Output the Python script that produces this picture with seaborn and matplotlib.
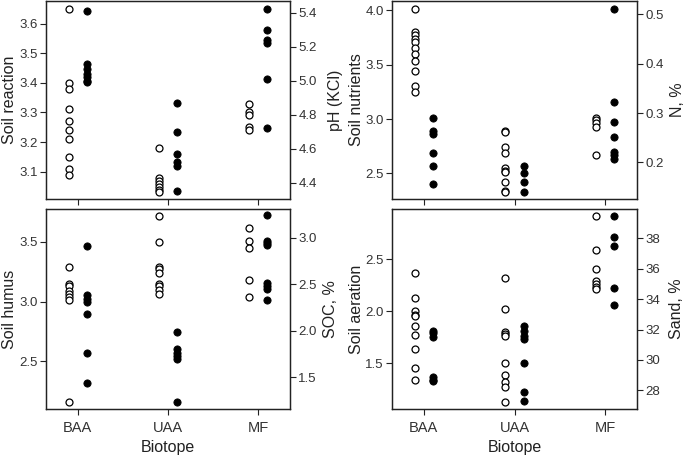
import numpy as np
import pandas as pd
import seaborn as sns
import matplotlib.pyplot as plt

biotopes = ["BAA", "UAA", "MF"]

# Soil reaction (open) / pH KCl (filled)
reaction = {"BAA": [3.65, 3.40, 3.38, 3.31, 3.27, 3.24, 3.21, 3.15, 3.11, 3.09],
            "UAA": [3.18, 3.08, 3.07, 3.06, 3.05, 3.04, 3.03],
            "MF": [3.33, 3.30, 3.29, 3.25, 3.24]}
ph_kcl = {"BAA": [5.41, 5.10, 5.07, 5.04, 5.02, 5.00, 4.99],
          "UAA": [4.87, 4.70, 4.57, 4.52, 4.50, 4.35],
          "MF": [5.42, 5.30, 5.24, 5.22, 5.01, 4.72]}

# Soil nutrients (open) / N % (filled)
nutrients = {"BAA": [4.01, 3.80, 3.77, 3.74, 3.71, 3.65, 3.60, 3.53, 3.44, 3.30, 3.25],
             "UAA": [2.89, 2.88, 2.74, 2.69, 2.55, 2.52, 2.51, 2.42, 2.34, 2.33],
             "MF": [3.01, 2.99, 2.96, 2.93, 2.67]}
nitrogen = {"BAA": [0.290, 0.263, 0.258, 0.219, 0.193, 0.156],
            "UAA": [0.193, 0.178, 0.160, 0.140],
            "MF": [0.510, 0.322, 0.281, 0.252, 0.221, 0.215, 0.208]}

# Soil humus (open) / SOC % (filled)
humus = {"BAA": [3.29, 3.15, 3.13, 3.09, 3.06, 3.04, 3.01, 2.16],
         "UAA": [3.72, 3.50, 3.29, 3.27, 3.24, 3.15, 3.13, 3.10, 3.06],
         "MF": [3.62, 3.51, 3.45, 3.18, 3.04]}
soc = {"BAA": [2.91, 2.38, 2.34, 2.31, 2.18, 1.76, 1.44],
       "UAA": [1.99, 1.80, 1.76, 1.73, 1.70, 1.24],
       "MF": [3.24, 2.96, 2.94, 2.92, 2.51, 2.48, 2.45, 2.33]}

# Soil aeration (open) / Sand % (filled)
aeration = {"BAA": [2.37, 2.13, 2.00, 1.96, 1.95, 1.86, 1.77, 1.64, 1.45, 1.34],
            "UAA": [2.32, 2.02, 1.80, 1.78, 1.76, 1.50, 1.39, 1.32, 1.27, 1.13],
            "MF": [2.92, 2.59, 2.41, 2.29, 2.26, 2.23, 2.21]}
sand = {"BAA": [31.9, 31.8, 31.5, 28.9, 28.7, 28.6],
        "UAA": [32.2, 31.9, 31.6, 31.4, 29.8, 27.9, 27.3],
        "MF": [39.5, 38.1, 37.5, 34.7, 33.6]}

panels = [
    dict(left=reaction, right=ph_kcl, llab="Soil reaction", rlab="pH (KCl)",
         lylim=(3.008, 3.676), rylim=(4.304, 5.468),
         lticks=[3.1, 3.2, 3.3, 3.4, 3.5, 3.6], rticks=[4.4, 4.6, 4.8, 5.0, 5.2, 5.4],
         rect=[46, 1, 244, 198], lpos=-0.117, rpos=1.155, xlab=False),
    dict(left=nutrients, right=nitrogen, llab="Soil nutrients", rlab="N, %",
         lylim=(2.265, 4.085), rylim=(0.126, 0.527),
         lticks=[2.5, 3.0, 3.5, 4.0], rticks=[0.2, 0.3, 0.4, 0.5],
         rect=[392, 1, 245, 198], lpos=-0.116, rpos=1.135, xlab=False),
    dict(left=humus, right=soc, llab="Soil humus", rlab="SOC, %",
         lylim=(2.098, 3.777), rylim=(1.161, 3.307),
         lticks=[2.5, 3.0, 3.5], rticks=[1.5, 2.0, 2.5, 3.0],
         rect=[46, 209, 244, 200], lpos=-0.12, rpos=1.135, xlab=True),
    dict(left=aeration, right=sand, llab="Soil aeration", rlab="Sand, %",
         lylim=(1.058, 2.984), rylim=(26.77, 39.93),
         lticks=[1.5, 2.0, 2.5], rticks=[28, 30, 32, 34, 36, 38],
         rect=[392, 209, 245, 200], lpos=-0.116, rpos=1.13, xlab=True),
]


def to_frame(d, offset):
    rows = []
    for i, b in enumerate(biotopes):
        for v in d[b]:
            rows.append({"x": i + offset, "value": v})
    return pd.DataFrame(rows)


sns.set_style("ticks")
plt.rcParams["font.family"] = ["Liberation Sans", "DejaVu Sans"]
plt.rcParams["axes.linewidth"] = 0.9

W, H = 685, 458
fig = plt.figure(figsize=(W / 100, H / 100), dpi=100)
dark = "#222222"
tickc = "#333333"

for p in panels:
    x0, y0, w, h = p["rect"]
    ax = fig.add_axes([x0 / W, 1 - (y0 + h) / H, w / W, h / H])
    ax2 = ax.twinx()

    sns.scatterplot(data=to_frame(p["left"], -0.1), x="x", y="value", ax=ax,
                    marker="o", s=25, facecolor="white", edgecolor="black",
                    linewidth=0.9, zorder=3)
    sns.scatterplot(data=to_frame(p["right"], 0.1), x="x", y="value", ax=ax2,
                    marker="o", s=27, color="black", edgecolor="black",
                    linewidth=0.6, zorder=3)

    ax.set_xlim(-0.35, 2.35)
    ax.set_ylim(*p["lylim"])
    ax2.set_ylim(*p["rylim"])
    ax.set_yticks(p["lticks"])
    ax2.set_yticks(p["rticks"])
    ax.set_xticks(range(len(biotopes)))
    if p["xlab"]:
        ax.set_xticklabels(biotopes)
        ax.set_xlabel("Biotope", fontsize=11.5, color=dark, labelpad=3)
    else:
        ax.set_xticklabels([])
        ax.set_xlabel("")
    ax.set_ylabel(p["llab"], fontsize=11.5, color=dark)
    ax2.set_ylabel(p["rlab"], fontsize=11.5, color=dark)
    ax.yaxis.set_label_coords(p["lpos"], 0.5)
    ax2.yaxis.set_label_coords(p["rpos"], 0.5)
    ax.tick_params(axis="x", labelsize=10.5, length=4, width=0.8, colors=dark,
                   labelcolor=tickc, pad=5)
    ax.tick_params(axis="y", labelsize=9.5, length=4, width=0.8, colors=dark,
                   labelcolor=tickc, pad=2)
    ax2.tick_params(axis="y", labelsize=9.5, length=4, width=0.8, colors=dark,
                    labelcolor=tickc, pad=2)
    for a in (ax, ax2):
        for s in a.spines.values():
            s.set_visible(True)
            s.set_color(dark)

fig.savefig("out.png", dpi=100)
